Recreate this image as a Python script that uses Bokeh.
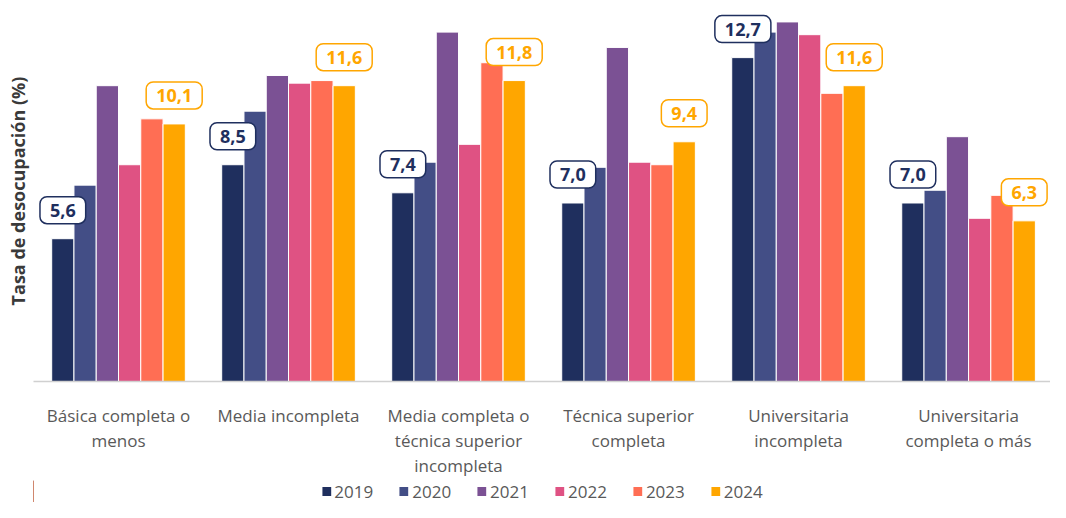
from bokeh.plotting import figure
from bokeh.layouts import column
from bokeh.models import FixedTicker, Label, Legend, LegendItem, Range1d
from bokeh.embed import file_html
from bokeh.resources import INLINE

categories = [
    "Básica completa o\nmenos",
    "Media incompleta",
    "Media completa o\ntécnica superior\nincompleta",
    "Técnica superior\ncompleta",
    "Universitaria\nincompleta",
    "Universitaria\ncompleta o más",
]
years = ["2019", "2020", "2021", "2022", "2023", "2024"]
v2019 = [5.6, 8.5, 7.4, 7.0, 12.7, 7.0]
v2020 = [7.7, 10.6, 8.6, 8.4, 13.7, 7.5]
v2021 = [11.6, 12.0, 13.7, 13.1, 14.1, 9.6]
v2022 = [8.5, 11.7, 9.3, 8.6, 13.6, 6.4]
v2023 = [10.3, 11.8, 12.5, 8.5, 11.3, 7.3]
v2024 = [10.1, 11.6, 11.8, 9.4, 11.6, 6.3]
series = [v2019, v2020, v2021, v2022, v2023, v2024]
colors = ["#1f2f5e", "#434e86", "#7b5194", "#df5283", "#ff6e54", "#ffa600"]

FONT = "Open Sans"
bar_w = 0.131
xs = list(range(len(categories)))

p = figure(frame_width=1017, frame_height=381, output_backend="svg",
           toolbar_location=None, x_range=Range1d(-0.5, 5.482),
           y_range=Range1d(0, 14.94), min_border_left=33, min_border_right=0,
           min_border_top=0, min_border_bottom=0)
p.outline_line_color = None
p.grid.visible = False
p.background_fill_color = "white"

for k, (yr, vals, c) in enumerate(zip(years, series, colors)):
    off = (k - 2.5) * bar_w
    p.vbar(x=[x + off for x in xs], top=vals, width=bar_w, bottom=0,
           fill_color=c, line_color="white", line_width=1)

# callout labels for 2019 and 2024
for k, vals in ((0, v2019), (5, v2024)):
    off = (k - 2.5) * bar_w
    col = colors[k]
    for x, v in zip(xs, vals):
        p.add_layout(Label(x=x + off, y=v, y_offset=15, text=f"{v:.1f}".replace(".", ","),
                           text_align="center", text_baseline="bottom",
                           text_font=FONT, text_font_style="bold",
                           text_font_size="18px", text_color=col,
                           background_fill_color="white",
                           border_line_color=col, border_line_width=1.5,
                           border_radius=7,
                           padding=dict(left=10, right=10, top=7, bottom=7)))

xa = p.xaxis[0]
xa.ticker = FixedTicker(ticks=xs)
xa.major_label_overrides = {x: c for x, c in zip(xs, categories)}
xa.major_tick_line_color = None
xa.minor_tick_line_color = None
xa.axis_line_color = "#d0d0d0"
xa.axis_line_width = 1.5
xa.major_label_text_font = FONT
xa.major_label_text_font_size = "17px"
xa.major_label_text_color = "#595959"
xa.major_label_standoff = 16
xa.major_label_text_line_height = 1.1

ya = p.yaxis[0]
ya.ticker = FixedTicker(ticks=[])
ya.axis_line_color = None
ya.major_tick_line_color = None
ya.minor_tick_line_color = None
ya.axis_label = "Tasa de desocupación (%)"
ya.axis_label_text_font = FONT
ya.axis_label_text_font_style = "bold"
ya.axis_label_text_font_size = "18px"
ya.axis_label_text_color = "#3a3a3a"
ya.axis_label_standoff = 4

# legend strip below the chart
lg = figure(width=1050, height=22, output_backend="svg", toolbar_location=None,
            x_axis_type=None, y_axis_type=None, min_border_left=28,
            min_border_right=0, min_border_top=0, min_border_bottom=0,
            x_range=Range1d(0, 1), y_range=Range1d(0, 1))
lg.outline_line_color = None
lg.grid.visible = False
items = []
for yr, c in zip(years, colors):
    r = lg.vbar(x=[-5], top=[1], width=0.1, fill_color=c, line_color=None)
    items.append(LegendItem(label=yr, renderers=[r]))
legend = Legend(items=items, orientation="horizontal", location="center",
                label_text_font=FONT, label_text_font_size="17px",
                label_text_color="#595959", glyph_width=11, glyph_height=11,
                label_standoff=3, spacing=25, border_line_color=None,
                background_fill_alpha=0, padding=0, margin=0)
lg.add_layout(legend, "center")

layout = column(p, lg, spacing=0)
open("out.html", "w").write(file_html(layout, INLINE))
